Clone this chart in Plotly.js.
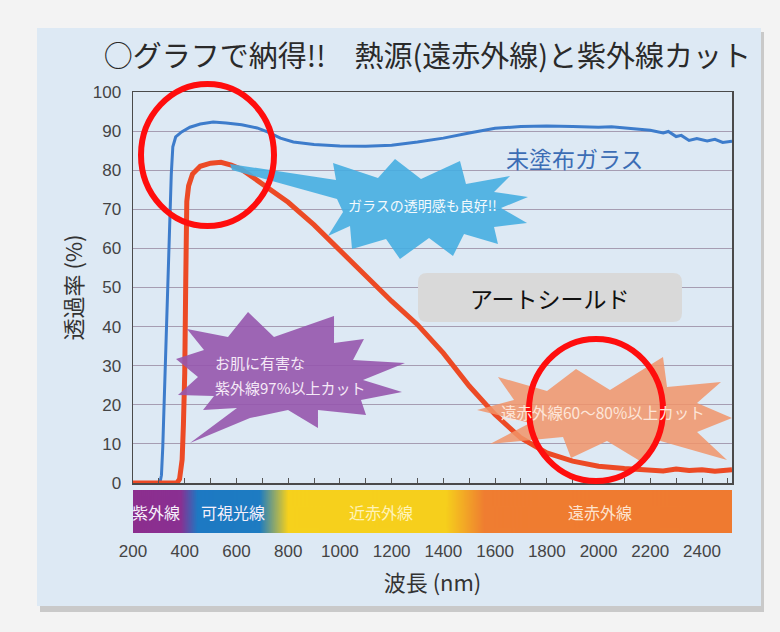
<!DOCTYPE html>
<html><head><meta charset="utf-8">
<script src="https://cdn.plot.ly/plotly-3.0.1.min.js"></script>
<style>html,body{margin:0;padding:0;background:#f3f3f3;}#chart{width:780px;height:632px;}</style>
</head><body><div id="chart"></div>
<script>
// ---- data ----
const glassWavelength = [200,250,300,305,310,315,320,325,330,335,342,348,354,365,388,420,460,510,560,620,680,720,770,820,900,1000,1100,1200,1300,1400,1500,1600,1700,1800,1900,2000,2050,2100,2150,2200,2250,2270,2300,2320,2350,2380,2420,2450,2480,2516];
const glassTransmittance = [0,0,0,0.3,2,9,20,32,43,55,69,79,86,88.5,89.8,91,91.8,92.3,92.1,91.6,90.8,89.8,88.2,87.2,86.6,86.2,86.1,86.4,87.2,88.2,89.5,90.7,91.2,91.3,91.2,91.0,91.1,90.8,90.6,90.2,89.5,89.9,88.6,88.9,87.6,88.1,87.5,87.9,87.1,87.4];
const shieldWavelength = [200,300,370,380,390,395,400,404,408,415,430,460,500,540,580,620,700,800,900,1000,1100,1200,1300,1400,1500,1600,1700,1800,1900,2000,2100,2200,2250,2300,2350,2400,2450,2516];
const shieldTransmittance = [0,0,0,1,6,15,28,52,72,76,79,81,81.8,82,81.3,80.2,76.5,71.8,66,59.5,53,46.5,40.5,33.2,24.8,17.5,11.5,7.7,5.6,4.3,3.7,3.4,3.1,3.6,3.2,3.4,3.0,3.4];
const xTickValues = [200,400,600,800,1000,1200,1400,1600,1800,2000,2200,2400];
const yTickValues = [0,10,20,30,40,50,60,70,80,90,100];
const bandNames = ['紫外線','可視光線','近赤外線','遠赤外線'];
const bandCenters = [290,585,1160,2005];
const seriesNames = ['未塗布ガラス','アートシールド'];

// ---- geometry helpers (page pixels -> paper) ----
const W=780,H=632,L=133,R=48,T=92,B=149;
const PW=W-L-R, PH=H-T-B;
const X0=200, X1=2516;
function px(x){return (x-L)/PW;}
function py(y){return (H-B-y)/PH;}
function poly(pts){return 'M '+pts.map(p=>px(p[0]).toFixed(4)+' '+py(p[1]).toFixed(4)).join(' L ')+' Z';}
function roundRect(x0,y0,x1,y1,r){
  const P=(x,y)=>px(x).toFixed(4)+' '+py(y).toFixed(4);
  return 'M '+P(x0+r,y0)+' L '+P(x1-r,y0)+' Q '+P(x1,y0)+' '+P(x1,y0+r)+' L '+P(x1,y1-r)+' Q '+P(x1,y1)+' '+P(x1-r,y1)+
   ' L '+P(x0+r,y1)+' Q '+P(x0,y1)+' '+P(x0,y1-r)+' L '+P(x0,y0+r)+' Q '+P(x0,y0)+' '+P(x0+r,y0)+' Z';
}

// spectrum band gradient image
function bandImage(){
  const c=document.createElement('canvas'); c.width=600; c.height=4;
  const g=c.getContext('2d');
  const gr=g.createLinearGradient(0,0,600,0);
  const f=w=>(w-X0)/(X1-X0);
  gr.addColorStop(0,'#8c2e8e');
  gr.addColorStop(f(385),'#8a3092');
  gr.addColorStop(f(450),'#1d79c3');
  gr.addColorStop(f(690),'#1e7cc2');
  gr.addColorStop(f(800),'#f6d11c');
  gr.addColorStop(f(1410),'#f6cf1c');
  gr.addColorStop(f(1560),'#ef7d31');
  gr.addColorStop(1,'#ef7a30');
  g.fillStyle=gr; g.fillRect(0,0,600,4);
  return c.toDataURL('image/png');
}

const jp='"Noto Sans CJK JP", "Noto Sans", sans-serif';
const num='"Liberation Sans", Arial, sans-serif';

const traces=[
 {x:glassWavelength,y:glassTransmittance,name:seriesNames[0],type:'scatter',mode:'lines',line:{color:'#3d7ccb',width:3},hoverinfo:'x+y'},
 {x:shieldWavelength,y:shieldTransmittance,name:seriesNames[1],type:'scatter',mode:'lines',line:{color:'#ec4a25',width:5},hoverinfo:'x+y'}
];

const blueStar=[[230,164],[336,180],[333,163],[378,178],[395,159],[421,179],[460,161],[466,184],[510,176],[494,192],[528,197],[501,208],[527,223],[494,227],[498,244],[464,234],[453,256],[429,238],[400,259],[386,239],[352,249],[350,226],[328,236],[343,212],[337,199],[232,170]];
const purpleStar=[[248,312],[274,337],[334,316],[334,343],[364,339],[353,360],[405,363],[363,380],[402,392],[361,400],[366,415],[318,410],[318,428],[288,410],[250,418],[190,443],[237,408],[203,410],[214,396],[178,395],[198,377],[176,359],[204,350],[187,329],[228,337]];
const salmonStar=[[498,377],[547,391],[576,369],[610,390],[663,357],[667,387],[721,382],[697,403],[732,418],[697,432],[727,460],[657,440],[640,461],[607,441],[571,458],[563,437],[490,444],[530,423],[477,410],[514,400]];

const shapes=[
 {type:'rect',xref:'paper',yref:'paper',x0:px(40),x1:px(764),y0:py(612),y1:py(32),fillcolor:'#c9c9c9',line:{width:0},layer:'below'},
 {type:'rect',xref:'paper',yref:'paper',x0:px(37),x1:px(761),y0:py(606),y1:py(28),fillcolor:'#dde9f4',line:{width:0},layer:'below'},
 {type:'path',xref:'paper',yref:'paper',path:poly(blueStar),fillcolor:'#46aee1',opacity:0.9,line:{width:0},layer:'above'},
 {type:'path',xref:'paper',yref:'paper',path:poly(purpleStar),fillcolor:'#9656ad',opacity:0.9,line:{width:0},layer:'above'},
 {type:'path',xref:'paper',yref:'paper',path:poly(salmonStar),fillcolor:'#f19468',opacity:0.85,line:{width:0},layer:'above'},
 {type:'path',xref:'paper',yref:'paper',path:roundRect(418,273,682,322,9),fillcolor:'#d9d9d9',line:{width:0},layer:'above'},
 {type:'circle',xref:'paper',yref:'paper',x0:px(141),x1:px(274),y0:py(226),y1:py(84),line:{color:'#ff0d0d',width:6},fillcolor:'rgba(0,0,0,0)',layer:'above'},
 {type:'circle',xref:'paper',yref:'paper',x0:px(529),x1:px(663),y0:py(481),y1:py(339),line:{color:'#ff0d0d',width:6},fillcolor:'rgba(0,0,0,0)',layer:'above'}
];

function note(x,y,text,font,extra){return Object.assign({xref:'paper',yref:'paper',x:px(x),y:py(y),text:text,showarrow:false,xanchor:'center',yanchor:'middle',font:font},extra||{});}
const annotations=[
 note(575,158,seriesNames[0],{family:jp,size:23,color:'#3c6db5'}),
 note(550,298,seriesNames[1],{family:jp,size:23,color:'#111111'}),
 note(422,205,'ガラスの透明感も良好!!',{family:jp,size:14,color:'#f4fafd'}),
 note(213,362,'お肌に有害な',{family:jp,size:15,color:'#f5e9f7'},{xanchor:'left'}),
 note(213,387,'紫外線97%以上カット',{family:jp,size:15,color:'#f5e9f7'},{xanchor:'left'}),
 note(603,412,'遠赤外線60〜80%以上カット',{family:jp,size:15.5,color:'#fde6d9'})
];
bandNames.forEach((n,i)=>annotations.push({xref:'x',yref:'paper',x:bandCenters[i],y:py(512),xanchor:'center',yanchor:'middle',text:n,showarrow:false,
  font:{family:jp,size:16,color:i===2?'#fff3b8':(i===3?'#fde3cd':'#f6f0fa')}}));

const layout={
 width:W,height:H,margin:{l:L,r:R,t:T,b:B,pad:0},
 paper_bgcolor:'#f3f3f3',plot_bgcolor:'#f5f3f7',showlegend:false,
 title:{text:'○グラフで納得!!　熱源(遠赤外線)と紫外線カット',x:0.548,xanchor:'center',y:1-57/H,yanchor:'middle',yref:'container',font:{family:jp,size:29,color:'#2a2a2a'}},
 xaxis:{range:[X0,X1],tickvals:xTickValues,ticktext:xTickValues.map(String),ticks:'inside',ticklen:5,tickcolor:'#555',
   minor:{dtick:100,tick0:200,ticks:'inside',ticklen:5,tickcolor:'#555',showgrid:false},
   showgrid:false,zeroline:false,showline:true,linecolor:'#4a4a4a',linewidth:1.5,mirror:true,
   ticklabelstandoff:52,tickfont:{family:num,size:17,color:'#444'},
   title:{text:'波長 (nm)',standoff:15,font:{family:jp,size:22,color:'#333'}}},
 yaxis:{range:[0,100],tickvals:yTickValues,ticks:'',showgrid:true,gridcolor:'#a69db2',gridwidth:1,zeroline:false,
   showline:true,linecolor:'#4a4a4a',linewidth:1.5,mirror:true,ticklabelstandoff:7,
   tickfont:{family:num,size:17,color:'#444'},
   title:{text:'透過率 (%)',standoff:4,font:{family:jp,size:22,color:'#333'}}},
 shapes:shapes,annotations:annotations,
 images:[{source:bandImage(),xref:'paper',yref:'paper',x:0,y:py(490),sizex:1,sizey:(533-490)/PH,sizing:'stretch',xanchor:'left',yanchor:'top',layer:'above'}]
};
Plotly.newPlot('chart',traces,layout,{displayModeBar:false,staticPlot:true});
</script></body></html>
